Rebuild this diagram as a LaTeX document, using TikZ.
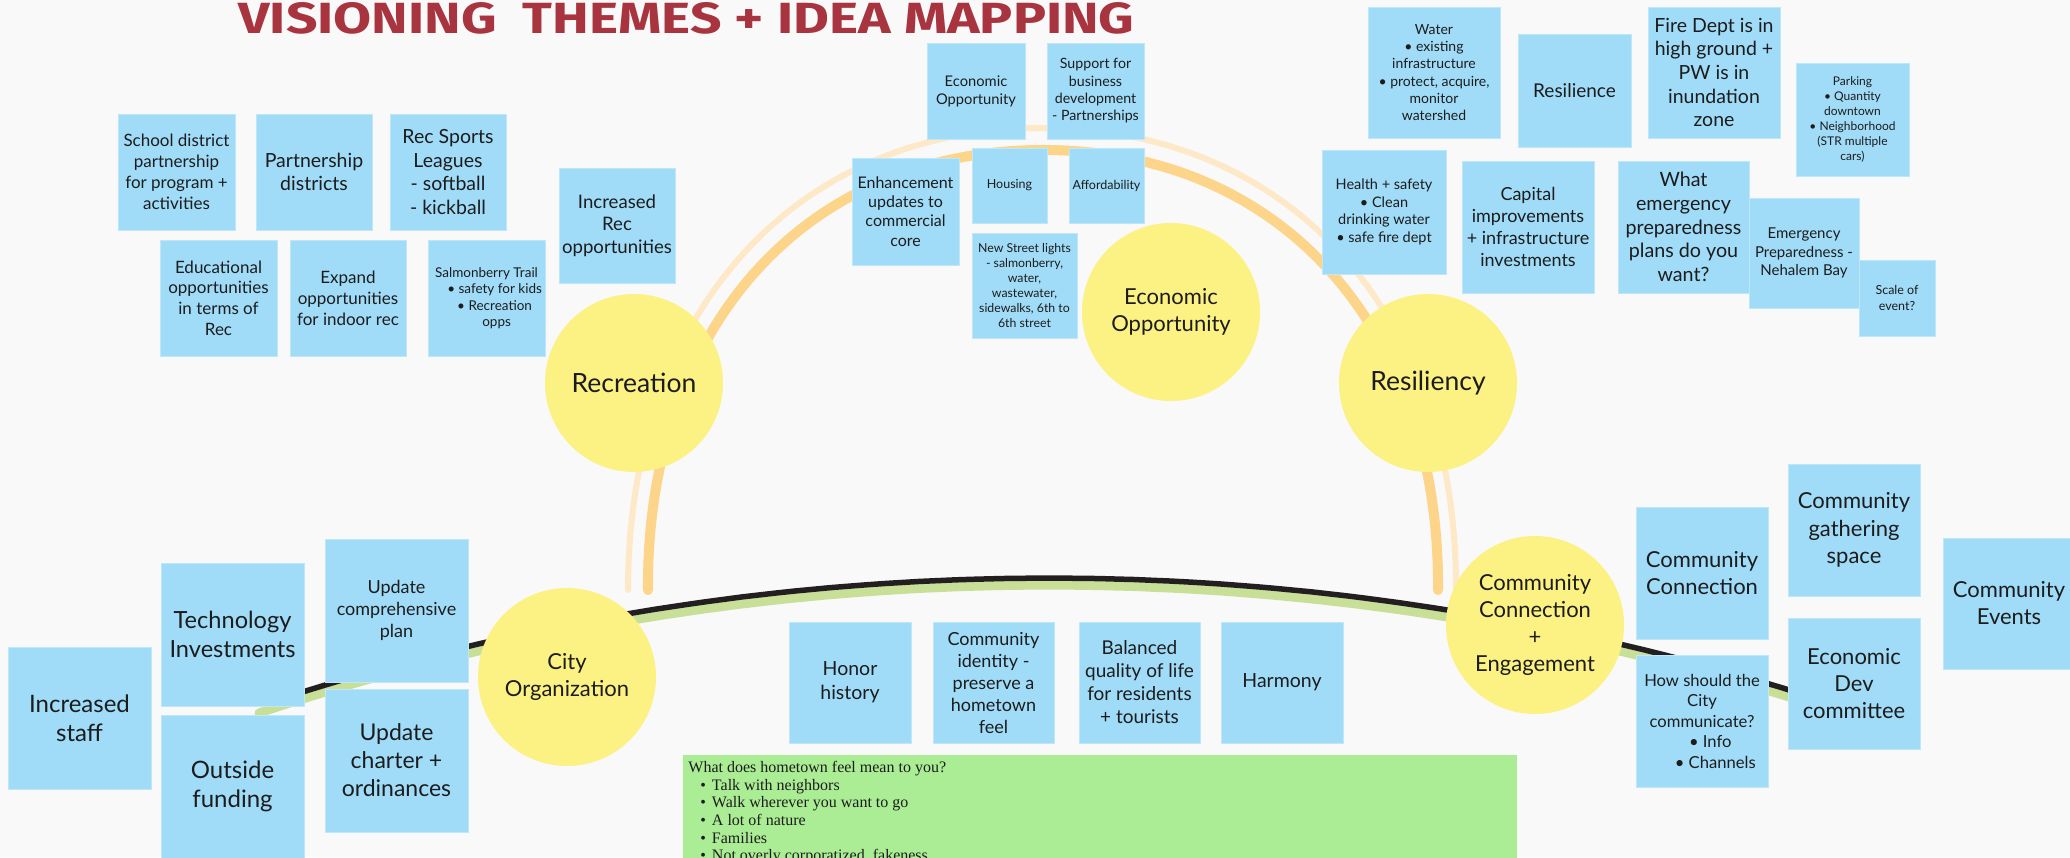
\documentclass[tikz,border=0pt]{standalone}
\usepackage{fontspec}
\usepackage{graphicx}
\setmainfont{Lato}
\newfontfamily\notefont{Liberation Serif}
\newfontfamily\titlefont{Fira Sans}

\definecolor{bg}{HTML}{F9F9F9}
\definecolor{stickyblue}{HTML}{A0DCF8}
\definecolor{stickyedge}{HTML}{BFE7FA}
\definecolor{themeyellow}{HTML}{FCF183}
\definecolor{notegreen}{HTML}{ABED94}
\definecolor{archdark}{HTML}{FDD58A}
\definecolor{archlight}{HTML}{FDE9C7}
\definecolor{pathgreen}{HTML}{C8DF97}
\definecolor{pathblack}{HTML}{231F20}
\definecolor{titlered}{HTML}{A8343F}
\definecolor{ink}{HTML}{1C1C1C}

% font size and leading given in canvas pixels (1px = 0.5pt)
\newcommand\pxsize[2]{\fontsize{\fpeval{#1/2}pt}{\fpeval{#2/2}pt}\selectfont}
% sticky note: name, x1, y1, x2, y2, font, text
\newcommand\sticky[7]{%
  \node[sticky, font=#6,
        minimum width=\fpeval{(#4-#2)/2}pt, minimum height=\fpeval{(#5-#3)/2}pt]
        (#1) at ({(#2+#4)/2},{(#3+#5)/2}) {#7};}

\tikzset{
  sticky/.style={rectangle, fill=stickyblue, draw=stickyedge, line width=0.4pt, inner sep=0pt, align=center, text=ink},
  theme/.style={circle, fill=themeyellow, minimum size=89pt, inner sep=0pt, align=center, text=ink},
  archdarkline/.style={draw=archdark, line width=5pt, line cap=round},
  archlightline/.style={draw=archlight, line width=3pt, line cap=round},
  pathgreenline/.style={draw=pathgreen, line width=4.5pt, line cap=round},
  pathblackline/.style={draw=pathblack, line width=2.75pt, line cap=round},
}

\begin{document}
\begin{tikzpicture}[x=0.5pt, y=-0.5pt]
\useasboundingbox (0,0) rectangle (2070,857);
\clip (0,0) rectangle (2070,857);
\fill[bg] (0,0) rectangle (2070,857);

% title
\node[anchor=south west, inner sep=0pt, text=titlered] (title) at (238,35)
  {\resizebox{448pt}{15.5pt}{\titlefont\bfseries VISIONING\ \ THEMES + IDEA MAPPING}};

% the two arches over the upper themes
\coordinate (archLA) at (628,590); \coordinate (archLB) at (1456,588);
\coordinate (archDA) at (648,590); \coordinate (archDB) at (1438,590);
\draw[archlightline] (archLA) .. controls (628,313) and (794,128) .. (1042,128)
  .. controls (1290,128) and (1456,313) .. (archLB);
\draw[archdarkline] (archDA) .. controls (646,330) and (803,150) .. (1043,150)
  .. controls (1283,150) and (1440,330) .. (archDB);

% the long base line under the lower themes
\draw[pathgreenline] plot[domain=251.61:288.66, samples=90] ({1049+2504*cos(\x)}, {3089+2504*sin(\x)});
\draw[pathblackline] plot[domain=252.36:288.66, samples=90] ({1049+2504*cos(\x)}, {3082+2504*sin(\x)});

% themes
\node[theme, font=\pxsize{26.5}{30}] (recreation) at (634,383) {Recreation};
\node[theme, font=\pxsize{22}{27.7}] (ecopp) at (1171,312) {Economic\\Opportunity};
\node[theme, font=\pxsize{26.5}{30}] (resiliency) at (1428,383) {Resiliency};
\node[theme, font=\pxsize{22}{26.7}] (cityorg) at (567,677) {City\\Organization};
\node[theme, font=\pxsize{22}{27}] (cce) at (1535,625) {Community\\Connection\\+\\Engagement};

% recreation ideas
\sticky{school}{118}{114}{235}{230}{\pxsize{17}{21}}{School district\\partnership\\for program +\\activities}
\sticky{partner}{256}{114}{372}{230}{\pxsize{19.5}{23.6}}{Partnership\\districts}
\sticky{recsports}{390}{114}{506}{230}{\pxsize{19.5}{23.6}}{Rec Sports\\Leagues\\- softball\\- kickball}
\sticky{increc}{559}{168}{675}{283}{\pxsize{18.6}{22.6}}{Increased\\Rec\\opportunities}
\sticky{educ}{160}{240}{277}{356}{\pxsize{17}{20.8}}{Educational\\opportunities\\in terms of\\Rec}
\sticky{expand}{290}{240}{406}{356}{\pxsize{17}{20.8}}{Expand\\opportunities\\for indoor rec}
\sticky{salmon}{428}{240}{545}{356}{\pxsize{13.5}{16.5}}{Salmonberry Trail\\\hspace*{1.2em}• safety for kids\\\hspace*{1.2em}• Recreation\\\hspace*{1.5em}opps}

% economic opportunity ideas
\sticky{ecoppnote}{927}{43}{1025}{139}{\pxsize{14.7}{18}}{Economic\\Opportunity}
\sticky{support}{1047}{43}{1144}{139}{\pxsize{14.2}{17.3}}{Support for\\business\\development\\- Partnerships}
\sticky{enhance}{852}{158}{959}{265}{\pxsize{16}{19.3}}{Enhancement\\updates to\\commercial\\core}
\sticky{housing}{972}{148}{1047}{223}{\pxsize{12.5}{15}}{Housing}
\sticky{afford}{1069}{148}{1144}{223}{\pxsize{12.5}{15}}{Affordability}
\sticky{lights}{972}{233}{1077}{338}{\pxsize{12.3}{15}}{New Street lights\\- salmonberry,\\water,\\wastewater,\\sidewalks, 6th to\\6th street}

% resiliency ideas
\sticky{water}{1368}{7}{1500}{138}{\pxsize{14}{17.2}}{Water\\• existing\\infrastructure\\• protect, acquire,\\monitor\\watershed}
\sticky{resilience}{1518}{34}{1631}{147}{\pxsize{19}{23}}{Resilience}
\sticky{firedept}{1648}{7}{1780}{138}{\pxsize{19.5}{23.6}}{Fire Dept is in\\high ground +\\PW is in\\inundation\\zone}
\sticky{parking}{1796}{63}{1909}{176}{\pxsize{12}{14.9}}{Parking\\• Quantity\\downtown\\• Neighborhood\\(STR multiple\\cars)}
\sticky{health}{1322}{150}{1446}{274}{\pxsize{14.5}{17.6}}{Health + safety\\• Clean\\drinking water\\• safe fire dept}
\sticky{capital}{1462}{161}{1594}{293}{\pxsize{18}{21.9}}{Capital\\improvements\\+ infrastructure\\investments}
\sticky{emerg}{1618}{161}{1749}{293}{\pxsize{19.7}{23.8}}{What\\emergency\\preparedness\\plans do you\\want?}
\sticky{nehalem}{1749}{198}{1859}{308}{\pxsize{15}{18.3}}{Emergency\\Preparedness -\\Nehalem Bay}
\sticky{scale}{1859}{260}{1935}{336}{\pxsize{12.5}{15.2}}{Scale of\\event?}

% city organization ideas
\sticky{tech}{161}{563}{304}{706}{\pxsize{23.6}{29}}{Technology\\Investments}
\sticky{staff}{8}{647}{151}{789}{\pxsize{24}{29.5}}{Increased\\staff}
\sticky{funding}{161}{715}{304}{858}{\pxsize{24}{28.5}}{Outside\\funding}
\sticky{compplan}{325}{539}{468}{682}{\pxsize{18}{22.3}}{Update\\comprehensive\\plan}
\sticky{charter}{325}{689}{468}{832}{\pxsize{23}{28}}{Update\\charter +\\ordinances}

% shared values
\sticky{honor}{789}{622}{911}{743}{\pxsize{19.5}{23.8}}{Honor\\history}
\sticky{identity}{933}{622}{1054}{743}{\pxsize{18}{22}}{Community\\identity -\\preserve a\\hometown\\feel}
\sticky{balanced}{1079}{622}{1200}{743}{\pxsize{19}{23}}{Balanced\\quality of life\\for residents\\+ tourists}
\sticky{harmony}{1221}{622}{1343}{743}{\pxsize{19.5}{23}}{Harmony}

% community connection ideas
\sticky{commconn}{1636}{507}{1768}{639}{\pxsize{22}{27}}{Community\\Connection}
\sticky{gathering}{1788}{464}{1920}{596}{\pxsize{22}{27.3}}{Community\\gathering\\space}
\sticky{events}{1943}{538}{2075}{669}{\pxsize{22}{27}}{Community\\Events}
\sticky{howcity}{1636}{655}{1768}{787}{\pxsize{16.6}{20.5}}{How should the\\City\\communicate?\\\hspace*{1em}• Info\\\hspace*{1.6em}• Channels}
\sticky{econdev}{1788}{618}{1920}{749}{\pxsize{22}{27}}{Economic\\Dev\\committee}

% hometown note
\fill[notegreen] (683,755) rectangle (1517,870);
\node[anchor=north west, inner sep=0pt, align=left, text=ink, font=\notefont\pxsize{16}{17.6}] (hometown) at (688,761)
  {What does hometown feel mean to you?\\
   \hspace*{6pt}•\hspace{3pt}Talk with neighbors\\
   \hspace*{6pt}•\hspace{3pt}Walk wherever you want to go\\
   \hspace*{6pt}•\hspace{3pt}A lot of nature\\
   \hspace*{6pt}•\hspace{3pt}Families\\
   \hspace*{6pt}•\hspace{3pt}Not overly corporatized, fakeness};
\end{tikzpicture}
\end{document}
